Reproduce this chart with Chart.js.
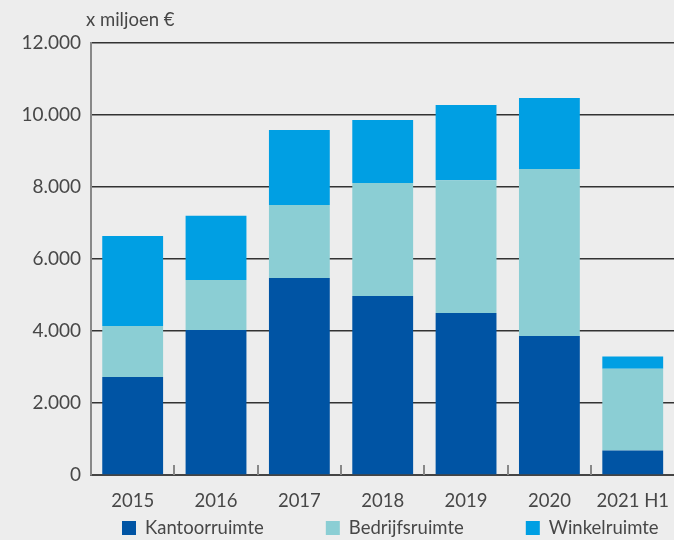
<!DOCTYPE html>
<html>
<head>
<meta charset="utf-8">
<script src="https://cdn.jsdelivr.net/npm/chart.js@4"></script>
<style>
  body { margin: 0; background: #ededed; overflow: hidden; }
  #wrap { width: 676px; height: 540px; }
</style>
</head>
<body>
<div id="wrap"><canvas id="chart"></canvas></div>
<script>
// data (x miljoen €)
const years = ["2015", "2016", "2017", "2018", "2019", "2020", "2021 H1"];
const kantoor = [2720, 4030, 5470, 4970, 4500, 3860, 680];
const bedrijf = [1420, 1390, 2030, 3140, 3690, 4640, 2270];
const winkel = [2500, 1780, 2080, 1750, 2090, 1970, 340];
const yTicks = [0, 2000, 4000, 6000, 8000, 10000, 12000];

const textColor = "#474747";
const fontFamily = "Lato, 'Open Sans', sans-serif";

// unit label, small category ticks on the baseline and a spread-out legend
const extras = {
    id: "extras",
    afterDraw(chart) {
        const ctx = chart.ctx;
        const area = chart.chartArea;
        const x = chart.scales.x;
        ctx.save();
        ctx.fillStyle = textColor;
        ctx.font = "18.5px " + fontFamily;
        ctx.textBaseline = "middle";
        ctx.fillText("x miljoen €", 86, 20);

        ctx.strokeStyle = "#888";
        ctx.lineWidth = 2;
        for (let i = 1; i < years.length; i++) {
            const px = Math.round((x.getPixelForValue(i - 1) + x.getPixelForValue(i)) / 2);
            ctx.beginPath();
            ctx.moveTo(px, area.bottom);
            ctx.lineTo(px, area.bottom - 10);
            ctx.stroke();
        }

        // legend
        let lx = 122;
        const ly = 528;
        chart.data.datasets.forEach(ds => {
            ctx.fillStyle = ds.backgroundColor;
            ctx.fillRect(lx, ly - 7, 14, 14);
            ctx.fillStyle = textColor;
            ctx.fillText(ds.label, lx + 23, ly);
            lx += 23 + ctx.measureText(ds.label).width + 62;
        });
        ctx.restore();
    }
};

Chart.defaults.font.family = fontFamily;
Chart.defaults.color = textColor;

new Chart(document.getElementById("chart"), {
    type: "bar",
    data: {
        labels: years,
        datasets: [
            { label: "Kantoorruimte", data: kantoor, backgroundColor: "#0054a4" },
            { label: "Bedrijfsruimte", data: bedrijf, backgroundColor: "#8bced4" },
            { label: "Winkelruimte", data: winkel, backgroundColor: "#009fe3" }
        ]
    },
    options: {
        responsive: true,
        maintainAspectRatio: false,
        animation: false,
        layout: { padding: { top: 43, right: 0, left: 0, bottom: 0 } },
        datasets: { bar: { categoryPercentage: 0.73, barPercentage: 1 } },
        scales: {
            x: {
                stacked: true,
                afterFit(scale) { scale.height = 65; },
                grid: { display: false },
                border: { color: "#444", width: 2 },
                ticks: { font: { size: 18.5 }, padding: 7, maxRotation: 0 }
            },
            y: {
                stacked: true,
                min: 0,
                max: 12000,
                afterFit(scale) { scale.width = 91; },
                afterBuildTicks(scale) { scale.ticks = yTicks.map(v => ({ value: v })); },
                grid: { color: "#333", lineWidth: 1.5, drawTicks: false },
                border: { color: "#888", width: 2 },
                ticks: {
                    font: { size: 19 },
                    padding: 10,
                    callback: v => v.toLocaleString("nl-NL")
                }
            }
        },
        plugins: {
            tooltip: { enabled: false },
            legend: { display: false }
        }
    },
    plugins: [extras]
});
</script>
</body>
</html>
